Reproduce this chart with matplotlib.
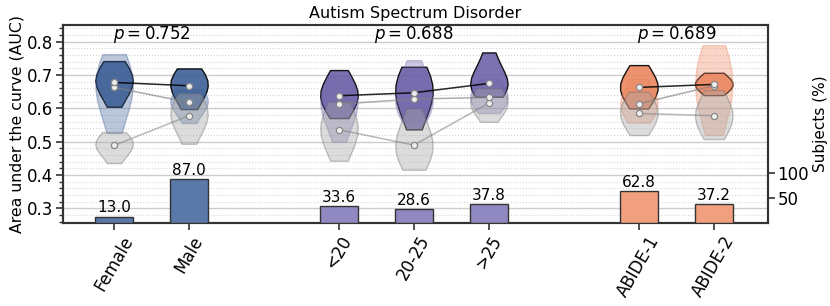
import matplotlib.pyplot as plt
import numpy as np

# categories and positions on the x axis (gaps between groups)
categories = ['Female', 'Male', '<20', '20-25', '>25', 'ABIDE-1', 'ABIDE-2']
groups = [[0, 1], [2, 3, 4], [5, 6]]
group_pos = [[0, 1], [3, 4, 5], [7, 8]]
p_values = ['0.752', '0.688', '0.689']

# share of subjects per category (%)
subjects = [13.0, 87.0, 33.6, 28.6, 37.8, 62.8, 37.2]

# AUC values per category: main model, alternative model, baseline
auc_main = [
    [0.605, 0.64, 0.662, 0.672, 0.676, 0.680, 0.695, 0.71, 0.725, 0.742],
    [0.598, 0.62, 0.645, 0.66, 0.666, 0.670, 0.68, 0.695, 0.71, 0.72],
    [0.571, 0.60, 0.615, 0.63, 0.636, 0.640, 0.655, 0.67, 0.69, 0.715],
    [0.537, 0.58, 0.61, 0.63, 0.644, 0.650, 0.67, 0.69, 0.71, 0.725],
    [0.635, 0.65, 0.66, 0.668, 0.673, 0.677, 0.69, 0.71, 0.74, 0.768],
    [0.600, 0.625, 0.64, 0.655, 0.661, 0.665, 0.675, 0.69, 0.71, 0.73],
    [0.640, 0.652, 0.66, 0.667, 0.670, 0.674, 0.68, 0.688, 0.697, 0.707],
]
auc_alt = [
    [0.526, 0.58, 0.62, 0.645, 0.660, 0.666, 0.69, 0.71, 0.74, 0.763],
    [0.556, 0.58, 0.60, 0.61, 0.616, 0.620, 0.63, 0.64, 0.65, 0.657],
    [0.500, 0.55, 0.585, 0.60, 0.611, 0.615, 0.63, 0.65, 0.675, 0.70],
    [0.560, 0.585, 0.605, 0.618, 0.626, 0.630, 0.645, 0.67, 0.71, 0.745],
    [0.586, 0.60, 0.615, 0.625, 0.631, 0.635, 0.645, 0.66, 0.675, 0.69],
    [0.557, 0.575, 0.59, 0.605, 0.612, 0.616, 0.63, 0.645, 0.665, 0.69],
    [0.520, 0.57, 0.61, 0.64, 0.662, 0.674, 0.70, 0.73, 0.76, 0.79],
]
auc_base = [
    [0.436, 0.46, 0.475, 0.485, 0.488, 0.490, 0.50, 0.51, 0.52, 0.529],
    [0.494, 0.53, 0.555, 0.57, 0.576, 0.580, 0.595, 0.61, 0.625, 0.645],
    [0.443, 0.48, 0.505, 0.52, 0.533, 0.539, 0.555, 0.575, 0.60, 0.62],
    [0.416, 0.44, 0.46, 0.475, 0.487, 0.493, 0.51, 0.53, 0.56, 0.60],
    [0.560, 0.58, 0.595, 0.605, 0.613, 0.619, 0.628, 0.638, 0.65, 0.66],
    [0.520, 0.545, 0.56, 0.575, 0.583, 0.587, 0.60, 0.615, 0.63, 0.65],
    [0.508, 0.53, 0.55, 0.565, 0.575, 0.581, 0.595, 0.61, 0.63, 0.655],
]

dark_cols = ['#3d5f96', '#6e63a9', '#ec8760']
bar_cols = ['#5a78a8', '#9088c0', '#f0a07e']

plt.rcParams['font.family'] = 'DejaVu Sans'
fig, ax = plt.subplots(figsize=(8.3, 3.06), dpi=100)
fig.subplots_adjust(left=0.076, right=0.925, top=0.918, bottom=0.271)

ax.set_ylim(0.256, 0.85)
ax.set_xlim(-0.68, 8.72)
ax.set_yticks(np.arange(0.3, 0.81, 0.1))
ax.set_yticks(np.arange(0.26, 0.85, 0.02), minor=True)
ax.grid(True, which='major', axis='y', color='#cccccc', lw=1, zorder=0)
ax.grid(True, which='minor', axis='y', color='#d5d5d5', lw=0.8, ls=':', zorder=0)
ax.set_axisbelow(True)


def violin(data, pos, face, edge, alpha, lw):
    v = ax.violinplot([data], positions=[pos], widths=0.5, points=8,
                      bw_method=1.0, showextrema=False)
    for b in v['bodies']:
        b.set_facecolor(face)
        b.set_edgecolor(edge)
        b.set_alpha(alpha)
        b.set_linewidth(lw)
        b.set_zorder(2)


twin = ax.twinx()

for g, (idx, pos) in enumerate(zip(groups, group_pos)):
    col = dark_cols[g]
    for i, x in zip(idx, pos):
        violin(auc_main[i], x, col, 'black', 0.9, 1.0)
        violin(auc_alt[i], x, col, col, 0.35, 1.0)
        violin(auc_base[i], x, '#a8a8a8', '#707070', 0.4, 1.0)

    for vals, lc, la in [(auc_base, '#808080', 0.55), (auc_alt, '#808080', 0.65),
                         (auc_main, 'black', 0.85)]:
        med = [np.median(vals[i]) for i in idx]
        ax.plot(pos, med, color=lc, alpha=la, lw=1.1, zorder=4)
        ax.scatter(pos, med, s=20, facecolor='#eeeeee', edgecolor='#888888',
                   lw=0.9, zorder=5)

    ax.text(np.mean(pos), 0.79, '$p = ' + p_values[g] + '$', ha='center',
            va='bottom', fontsize=12)

    vals = [subjects[i] for i in idx]
    twin.bar(pos, vals, width=0.5, color=bar_cols[g], edgecolor='#333333',
             lw=1.0, zorder=3)
    for x, v in zip(pos, vals):
        twin.text(x, v + 2, f'{v:.1f}', ha='center', va='bottom', fontsize=11)

twin.set_ylim(0, 392)
twin.set_yticks([50, 100])

all_pos = [p for gp in group_pos for p in gp]
ax.set_xticks(all_pos)
ax.set_xticklabels(categories, rotation=60, fontsize=12)
ax.set_ylabel('Area under the curve (AUC)', fontsize=11.3, labelpad=2)
ax.set_title('Autism Spectrum Disorder', fontsize=11.5, pad=5)

for a in (ax, twin):
    for s in a.spines.values():
        s.set_color('#333333')
        s.set_linewidth(1.5)
    a.tick_params(axis='both', which='major', length=5, width=1.2, labelsize=12,
                  color='#333333', pad=2)
ax.tick_params(axis='y', which='minor', length=3, width=1.0, color='#333333')
twin.set_ylabel('Subjects (%)', fontsize=11, labelpad=3)

plt.savefig('out.png', dpi=100)
